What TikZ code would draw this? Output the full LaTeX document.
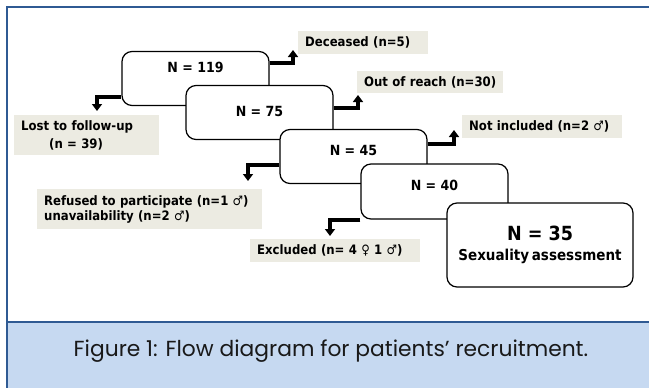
\documentclass[tikz,border=0pt]{standalone}
\usepackage{fontspec}
\newfontfamily\boxfont{DejaVu Sans Condensed}
\newfontfamily\capfont{Poppins}
\usetikzlibrary{arrows.meta}
\definecolor{frameblue}{HTML}{2F5A93}
\definecolor{capblue}{HTML}{C6D9F1}
\definecolor{notegray}{HTML}{ECEBE2}
\begin{document}
\begin{tikzpicture}[x=1pt,y=-1pt]
	\tikzstyle{stage} = [draw,fill=white,line width=1.2pt,rounded corners=10pt,minimum width=147pt,minimum height=54pt,text height=10pt,font=\boxfont\bfseries\fontsize{14}{16}\selectfont]
	\tikzstyle{loss} = [fill=notegray,anchor=north west,align=left,inner xsep=7pt,inner ysep=0pt,font=\boxfont\bfseries\fontsize{13}{15}\selectfont]
	\tikzstyle{drop} = [line width=4pt,-{Triangle[width=10pt,length=7pt]}]
	\useasboundingbox (0,0) rectangle (649,388);
	% frame and caption band
	\fill[capblue] (7,322) rectangle (649,388);
	\draw[frameblue,line width=2pt] (7,388) -- (7,7) -- (649,7);
	\draw[frameblue,line width=2.5pt] (7,322) -- (649,322);
	\node[font=\capfont\fontsize{21.8}{24}\selectfont,text=black!90](cap)at (331,351){Figure 1: Flow diagram for patients’ recruitment.};
	
	\node[stage,text depth=22pt](s-1)at (195.5,78.5){N = 119};
	\node[stage,text depth=3pt](s-2)at (259.5,112.5){N = 75};
	\node[stage,text depth=12pt](s-3)at (353.5,156.5){N = 45};
	\node[stage,text depth=12pt,minimum height=55pt](s-4)at (434.5,191.5){N = 40};
	\node[stage,minimum width=186pt,minimum height=84pt,align=center,text height=,text depth=,font=\boxfont\bfseries\fontsize{15}{17}\selectfont](s-5)at (540,245){{\fontsize{19.5}{22}\selectfont N = 35}\\[3pt]Sexuality\hspace{-2pt} assessment};
	
	\node[loss,text width=116pt,minimum height=23pt](r-1)at (298,31){Deceased (n=5)};
	\node[loss,text width=131pt,minimum height=40pt,font=\boxfont\bfseries\fontsize{13}{18}\selectfont](r-2)at (14,115){Lost to follow-up\\\hspace*{28pt}(n = 39)};
	\node[loss,text width=132pt,minimum height=22pt](r-3)at (357,71){Out of reach (n=30)};
	\node[loss,text width=146pt,minimum height=23pt](r-4)at (462,115){Not included (n=2 ♂)};
	\node[loss,text width=211pt,minimum height=40pt](r-5)at (37,189){Refused to participate (n=1 ♂)\\unavailability (n=2 ♂)};
	\node[loss,text width=156pt,minimum height=23pt](r-6)at (250,239){Excluded (n= 4 ♀ 1 ♂)};
	
	\coordinate (e-1) at (293,50);
	\coordinate (e-2) at (97,111);
	\coordinate (e-3) at (358,95);
	\coordinate (e-4) at (454,130);
	\coordinate (e-5) at (248,181);
	\coordinate (e-6) at (330,236);
	\draw[drop] ([yshift=15.5pt]s-1.east) -| (e-1);
	\draw[drop] ([yshift=-18.5pt]s-1.west) -| (e-2);
	\draw[drop] ([yshift=4.5pt]s-2.east) -| (e-3);
	\draw[drop] ([yshift=12.5pt]s-3.east) -| (e-4);
	\draw[drop] ([yshift=-8.5pt]s-3.west) -| (e-5);
	\draw[drop] ([yshift=-28.5pt]s-4.west) -| (e-6);
	
\end{tikzpicture}
\end{document}
